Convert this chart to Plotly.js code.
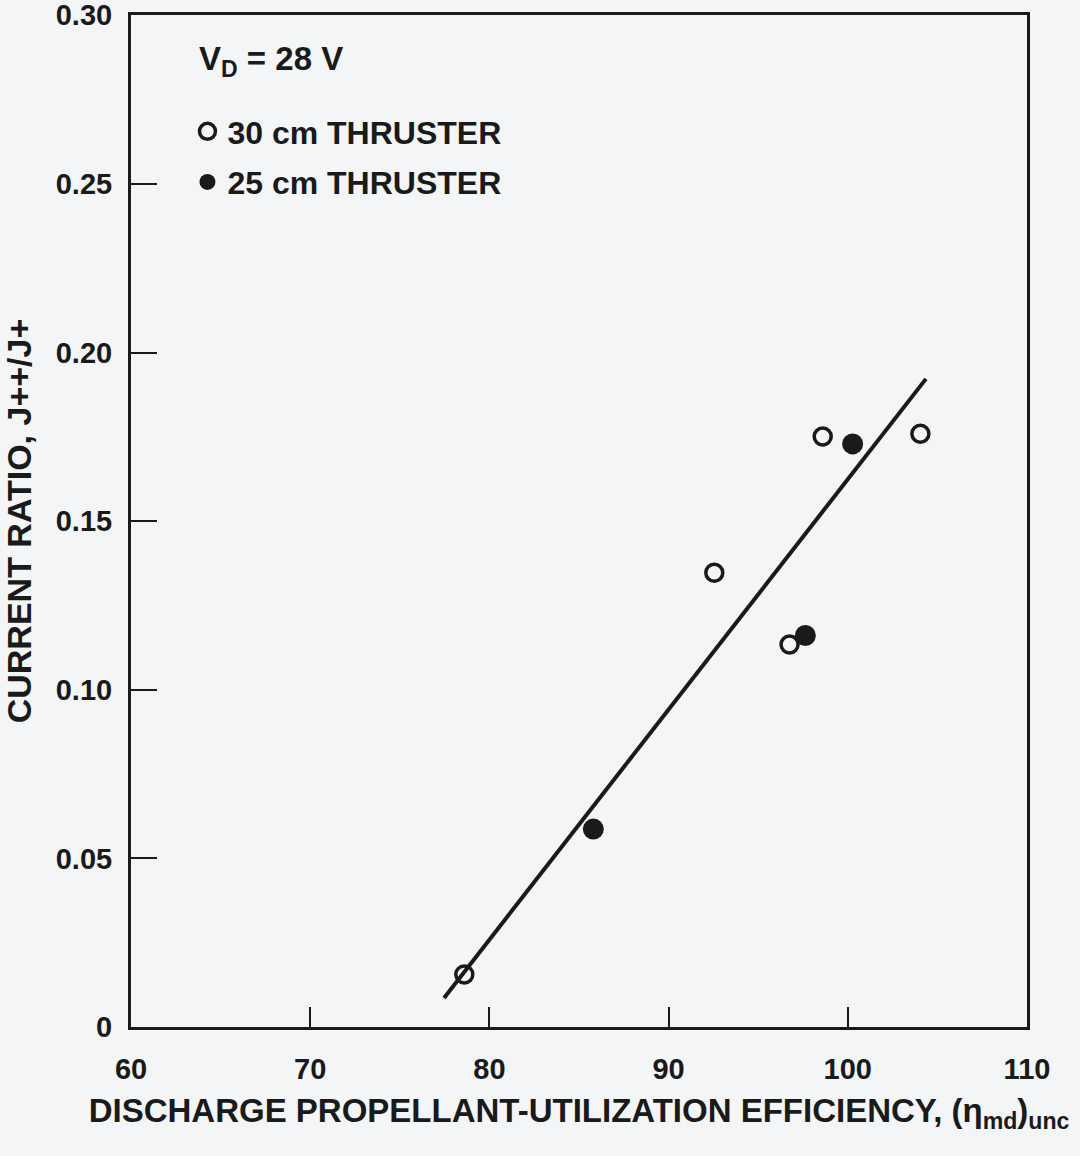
<!DOCTYPE html>
<html>
<head>
<meta charset="utf-8">
<script src="https://cdn.plot.ly/plotly-3.0.1.min.js"></script>
<style>html,body{margin:0;padding:0;background:#f4f5f7;}#chart{width:1080px;height:1156px;}</style>
</head>
<body>
<div id="chart"></div>
<script>
// Data
const thruster30_x = [78.6, 92.55, 96.75, 98.6, 104.05];
const thruster30_y = [0.0156, 0.1347, 0.1134, 0.1751, 0.1759];
const thruster25_x = [85.8, 97.63, 100.27];
const thruster25_y = [0.0587, 0.1161, 0.1729];
const fit_x = [77.47, 104.36];
const fit_y = [0.0086, 0.1922];
const xTickVals = [60, 70, 80, 90, 100, 110];
const yTickVals = [0, 0.05, 0.10, 0.15, 0.20, 0.25, 0.30];
const yTickText = ["0", "0.05", "0.10", "0.15", "0.20", "0.25", "0.30"];

const FONT = "Liberation Sans, Arial, Helvetica, sans-serif";
const INK = "#1a1a1a";

const traces = [
  {
    x: fit_x, y: fit_y, mode: "lines", showlegend: false, hoverinfo: "skip",
    line: {color: INK, width: 4}
  },
  {
    x: thruster30_x, y: thruster30_y, mode: "markers", name: "30 cm THRUSTER",
    legendgroup: "a",
    marker: {symbol: "circle-open", size: 17, color: INK, line: {width: 3.5, color: INK}}
  },
  {
    x: thruster25_x, y: thruster25_y, mode: "markers", name: "25 cm THRUSTER",
    legendgroup: "b",
    marker: {symbol: "circle", size: 21, color: INK, line: {width: 0}}
  }
];

const layout = {
  width: 1080, height: 1156,
  paper_bgcolor: "#f4f5f7", plot_bgcolor: "#f4f5f7",
  margin: {l: 131, r: 53, t: 15, b: 129},
  font: {family: FONT, color: INK},
  showlegend: true,
  legend: {
    x: 0.063, y: 0.912, xanchor: "left", yanchor: "top",
    bgcolor: "rgba(0,0,0,0)", borderwidth: 0,
    font: {family: FONT, size: 32, color: INK, weight: "bold"},
    traceorder: "grouped", tracegroupgap: 6
  },
  xaxis: {
    range: [60, 110], tickvals: xTickVals, ticktext: xTickVals.map(String),
    ticks: "inside", ticklen: 20, tickwidth: 2, tickcolor: INK,
    ticklabelstandoff: 14, ticklabeloverflow: "allow",
    showline: true, linewidth: 3, linecolor: INK, mirror: true,
    showgrid: false, zeroline: false,
    tickfont: {family: FONT, size: 29, color: INK, weight: "bold"},
    title: {
      text: "DISCHARGE PROPELLANT-UTILIZATION EFFICIENCY, (η<sub>md</sub>)<sub>unc</sub>",
      font: {family: FONT, size: 33, color: INK, weight: "bold"},
      standoff: 16
    }
  },
  yaxis: {
    range: [0, 0.3001], tickvals: yTickVals, ticktext: yTickText,
    ticks: "inside", ticklen: 26, tickwidth: 2, tickcolor: INK,
    ticklabelstandoff: 10, ticklabeloverflow: "allow",
    showline: true, linewidth: 3, linecolor: INK, mirror: true,
    showgrid: false, zeroline: false,
    tickfont: {family: FONT, size: 29, color: INK, weight: "bold"},
    title: {
      text: "CURRENT RATIO, J++/J+",
      font: {family: FONT, size: 34, color: INK, weight: "bold"},
      standoff: 16
    }
  },
  annotations: [
    {
      xref: "paper", yref: "paper", x: 0.074, y: 0.955, xanchor: "left", yanchor: "middle",
      text: "V<sub>D</sub> = 28 V", showarrow: false,
      font: {family: FONT, size: 33, color: INK, weight: "bold"}
    }
  ]
};

Plotly.newPlot("chart", traces, layout, {displayModeBar: false, staticPlot: true});
</script>
</body>
</html>
